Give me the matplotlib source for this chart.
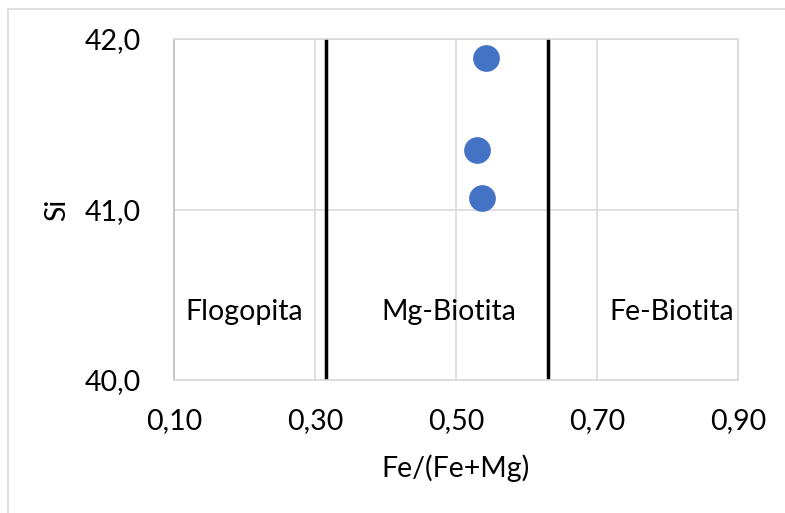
import matplotlib
matplotlib.use('Agg')
import matplotlib.pyplot as plt
from matplotlib.patches import Rectangle

# data
fe_ratio = [0.543, 0.530, 0.537]
si = [41.89, 41.35, 41.07]

boundaries = [0.315, 0.630]
field_names = ['Flogopita', 'Mg-Biotita', 'Fe-Biotita']
field_x = [0.199, 0.490, 0.806]
field_y = 40.40

x_ticks = [0.10, 0.30, 0.50, 0.70, 0.90]
y_ticks = [40.0, 41.0, 42.0]

plt.rcParams['font.family'] = ['Lato', 'DejaVu Sans']
fs = 20.5
grid_col = '#d9d9d9'

fig = plt.figure(figsize=(7.85, 5.13), dpi=100)
ax = fig.add_axes([174 / 785, 133 / 513, 564 / 785, 341 / 513])

# outer chart border (starts a few px in from top-left, runs off the image)
fig.patches.append(Rectangle((8 / 785, -0.1), 1.2, 1 - 9 / 513 + 0.1,
                             transform=fig.transFigure, fill=False,
                             edgecolor=grid_col, linewidth=1.2))

ax.set_xlim(0.10, 0.90)
ax.set_ylim(40.0, 42.0)
ax.set_xticks(x_ticks)
ax.set_yticks(y_ticks)
ax.set_xticklabels([f'{v:.2f}'.replace('.', ',') for v in x_ticks])
ax.set_yticklabels([f'{v:.1f}'.replace('.', ',') for v in y_ticks])
ax.tick_params(axis='both', length=0, labelsize=fs)
ax.tick_params(axis='x', pad=20)
ax.tick_params(axis='y', pad=24)
ax.grid(True, color=grid_col, linewidth=1.2)
ax.set_axisbelow(True)
for s in ax.spines.values():
    s.set_color(grid_col)
    s.set_linewidth(1.2)
ax.spines['left'].set_color('#bfbfbf')

for b in boundaries:
    ax.axvline(b, color='black', linewidth=2.5, zorder=2)

ax.scatter(fe_ratio, si, s=370, color='#4472C4', zorder=3, linewidths=0)

for name, x in zip(field_names, field_x):
    ax.text(x, field_y, name, ha='center', va='center', fontsize=fs, zorder=4)

ax.set_xlabel('Fe/(Fe+Mg)', fontsize=fs, labelpad=15)
ax.set_ylabel('Si', fontsize=fs, labelpad=10)

fig.savefig('out.png', dpi=100)
